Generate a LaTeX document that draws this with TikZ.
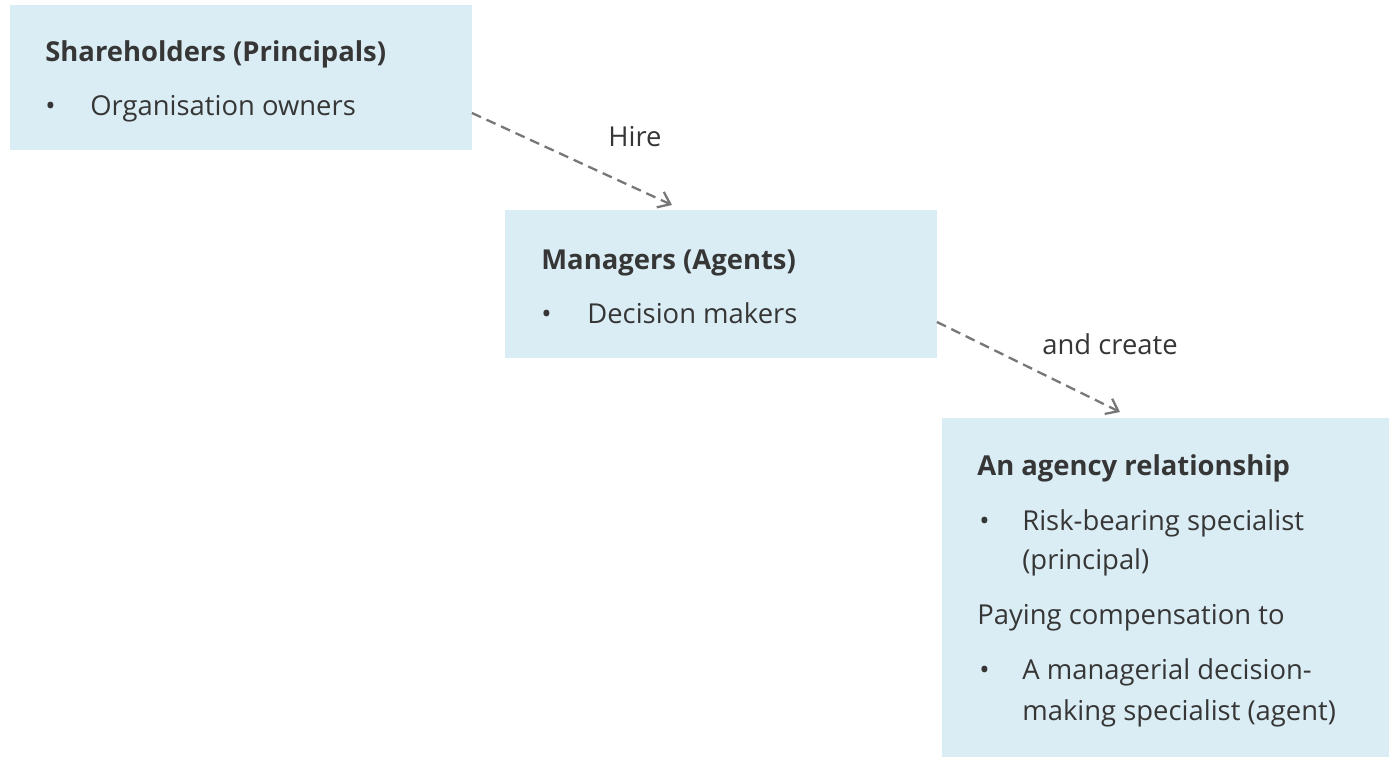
\documentclass[tikz,border=0pt]{standalone}
\usepackage{fontspec}
\setmainfont{Open Sans}
\usepackage{xcolor}
\usetikzlibrary{calc,positioning,arrows.meta}
\definecolor{agfill}{HTML}{DAEDF4}
\definecolor{agtext}{HTML}{363636}
\definecolor{agline}{HTML}{777777}
\tikzset{
 ag box/.style={fill=agfill,draw=none,anchor=north west,inner sep=0pt,outer sep=0pt},
 ag title/.style={anchor=base west,inner sep=0pt,text=agtext,font=\fontsize{15.6}{18}\selectfont\bfseries},
 ag text/.style={anchor=base west,inner sep=0pt,text=agtext,font=\fontsize{15.6}{18}\selectfont},
 ag link/.style={agline,line width=1.3pt,dash pattern=on 0.2cm off 0.12cm,
                 -{Straight Barb[length=0.22cm,width=0.34cm,line width=1.3pt]}},
 ag edge label/.style={inner sep=0pt,text=agtext,font=\fontsize{15.6}{18}\selectfont}
}
\begin{document}
\begin{tikzpicture}[x=0.02cm,y=-0.02cm]
 % Three boxes step down to the right: owners hire managers, which
 % creates the agency relationship.
 \useasboundingbox (0,0) rectangle (1389,757);

 \node[ag box,minimum width=9.24cm,minimum height=2.90cm] (sh) at (10,5) {};
 \node[ag box,minimum width=8.64cm,minimum height=2.96cm] (mg) at (505,210) {};
 \node[ag box,minimum width=8.94cm,minimum height=6.78cm] (ar) at (942,418) {};

 \node[ag title] (shT) at (45,62) {Shareholders (Principals)};
 \node[ag text] (shB) at (45,115) {\textbullet};
 \node[ag text] (shI) at (90,115) {Organisation owners};

 \node[ag title] (mgT) at (541,269) {Managers (Agents)};
 \node[ag text] (mgB) at (541,323) {\textbullet};
 \node[ag text] (mgI) at (587,323) {Decision makers};

 \node[ag title] (arT) at (977,475) {An agency relationship};
 \node[ag text] (arB1) at (979,530) {\textbullet};
 \node[ag text] (arI1) at (1022,530) {Risk-bearing specialist};
 \node[ag text] (arI1b) at (1022,569) {(principal)};
 \node[ag text] (arP) at (977,624) {Paying compensation to};
 \node[ag text] (arB2) at (979,679) {\textbullet};
 \node[ag text] (arI2) at (1022,679) {A managerial decision-};
 \node[ag text] (arI2b) at (1022,720) {making specialist (agent)};

 \draw[ag link] ([yshift=0.74cm]sh.south east) -- ([xshift=3.34cm,yshift=0.1cm]mg.north west);
 \draw[ag link] ([yshift=0.72cm]mg.south east) -- ([xshift=3.56cm,yshift=0.12cm]ar.north west);
 \node[ag edge label] (hire) at (635,137) {Hire};
 \node[ag edge label] (create) at (1110,344) {and create};
\end{tikzpicture}
\end{document}
